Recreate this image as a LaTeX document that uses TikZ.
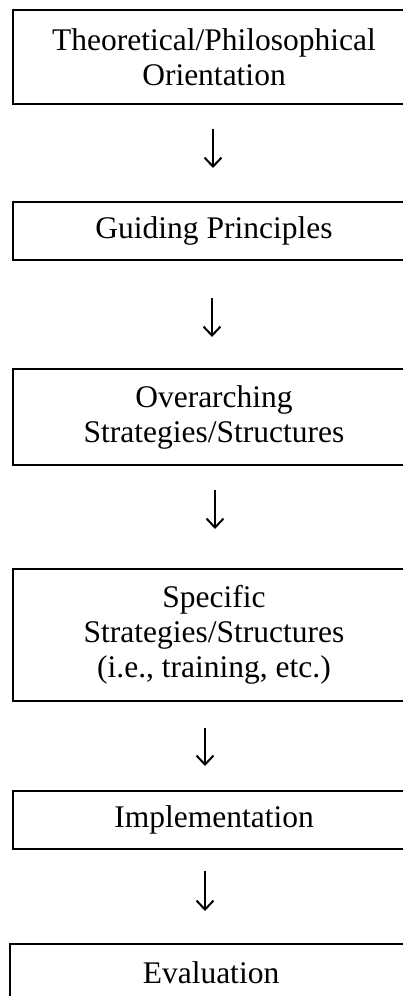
\documentclass[tikz,border=0pt]{standalone}
\usepackage{fontspec}
\setmainfont{Liberation Serif}
\usetikzlibrary{arrows.meta}

\tikzset{
  stage/.style={draw, line width=2pt, minimum width=402pt, inner sep=0pt,
    align=center, font=\fontsize{31.5pt}{35pt}\selectfont},
  flow/.style={line width=2pt, -{Straight Barb[length=9pt,width=17pt,line width=2pt]}}
}

\begin{document}
\begin{tikzpicture}[x=1pt,y=-1pt]
\useasboundingbox (0,0) rectangle (403,996);
\clip (0,0) rectangle (403,996);
% the six stages
\node[stage, minimum height=93.5pt] (theory) at (214,56.75) {Theoretical/Philosophical\\Orientation};
\node[stage, minimum height=58pt] (guiding) at (214,231) {Guiding Principles};
\node[stage, minimum height=96pt] (overarch) at (214,417) {Overarching\\Strategies/Structures};
\node[stage, minimum height=132pt] (specific) at (214,635) {Specific\\Strategies/Structures\\(i.e., training, etc.)};
\node[stage, minimum height=58pt] (implement) at (214,820) {Implementation};
\node[stage, minimum height=58pt] (evaluate) at (211,973) {Evaluation};
% arrows between them
\draw[flow, shorten <=24.5pt, shorten >=33pt] ([xshift=-1pt]theory.south) -- ([xshift=-1pt]guiding.north);
\draw[flow, shorten <=37pt, shorten >=31pt] ([xshift=-2pt]guiding.south) -- ([xshift=-2pt]overarch.north);
\draw[flow, shorten <=24pt, shorten >=39pt] ([xshift=1pt]overarch.south) -- ([xshift=1pt]specific.north);
\draw[flow, shorten <=26pt, shorten >=24pt] ([xshift=-9pt]specific.south) -- ([xshift=-9pt]implement.north);
\draw[flow, shorten <=21pt, shorten >=32pt] ([xshift=-9pt]implement.south) -- ([xshift=-6pt]evaluate.north);
\end{tikzpicture}
\end{document}
